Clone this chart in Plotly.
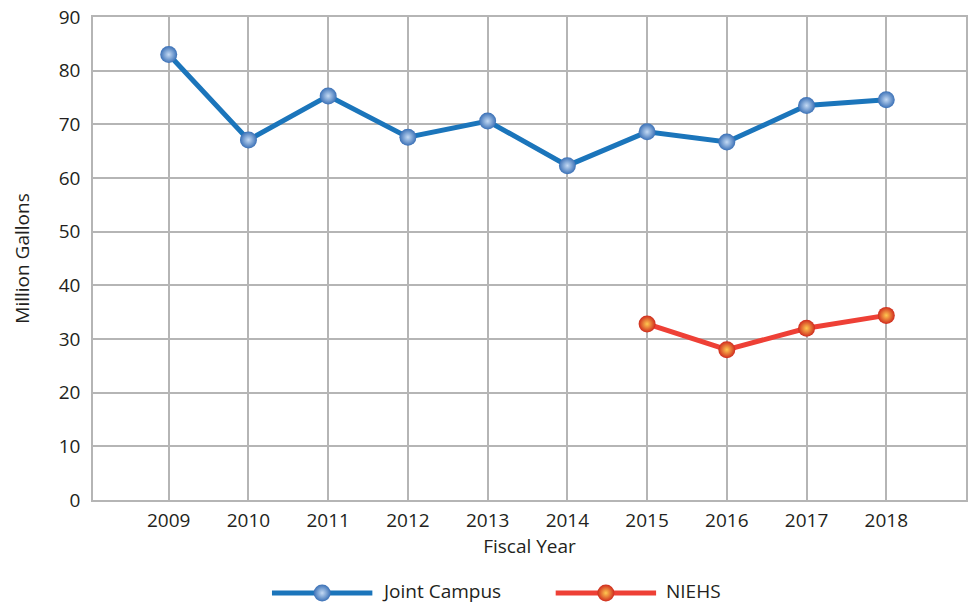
import plotly.graph_objects as go

years = [2009, 2010, 2011, 2012, 2013, 2014, 2015, 2016, 2017, 2018]
joint_campus = [83.0, 67.1, 75.3, 67.6, 70.6, 62.3, 68.6, 66.7, 73.5, 74.6]
niehs_years = [2015, 2016, 2017, 2018]
niehs = [32.8, 28.0, 32.0, 34.4]
y_ticks = [0, 10, 20, 30, 40, 50, 60, 70, 80, 90]
series_names = ["Joint Campus", "NIEHS"]

BLUE = "#1b75bb"
BLUE_EDGE = "#3a70b6"
BLUE_CORE = "#c4daf4"
RED = "#ee4036"
RED_EDGE = "#cf2a1e"
RED_CORE = "#ffc850"
GRID = "#b5b5b5"
FONT = "Open Sans"
TEXT = "#231f20"


def sphere(edge, core, size=17):
    # radial gradient: gradient.color is the centre, marker.color the rim
    return dict(size=size, color=edge,
                gradient=dict(type="radial", color=core),
                line=dict(width=0))


fig = go.Figure()

fig.add_trace(go.Scatter(
    x=years, y=joint_campus, mode="lines+markers", name=series_names[0],
    line=dict(color=BLUE, width=5), marker=sphere(BLUE_EDGE, BLUE_CORE),
    showlegend=False,
))
fig.add_trace(go.Scatter(
    x=niehs_years, y=niehs, mode="lines+markers", name=series_names[1],
    line=dict(color=RED, width=5), marker=sphere(RED_EDGE, RED_CORE),
    showlegend=False,
))

# Legend row at the bottom, on its own small subplot (x2/y2)
legend_items = [
    (series_names[0], BLUE, BLUE_EDGE, BLUE_CORE, 0.205),
    (series_names[1], RED, RED_EDGE, RED_CORE, 0.530),
]
for label, col, edge, core, x0 in legend_items:
    fig.add_trace(go.Scatter(
        x=[x0, x0 + 0.115], y=[0.5, 0.5], xaxis="x2", yaxis="y2",
        mode="lines", showlegend=False, hoverinfo="skip",
        line=dict(color=col, width=5),
    ))
    fig.add_trace(go.Scatter(
        x=[x0 + 0.0575], y=[0.5], xaxis="x2", yaxis="y2",
        mode="markers", showlegend=False, hoverinfo="skip",
        marker=sphere(edge, core),
    ))
    fig.add_annotation(x=x0 + 0.124, y=0.5, xref="x2", yref="y2",
                       text=label, showarrow=False, xanchor="left",
                       yanchor="middle", yshift=2,
                       font=dict(family=FONT, size=19, color=TEXT))

fig.update_layout(
    width=972, height=604,
    margin=dict(l=93, r=6, t=17, b=0, autoexpand=False),
    paper_bgcolor="white", plot_bgcolor="white",
    font=dict(family=FONT, size=19, color=TEXT),
    xaxis=dict(
        range=[2008.05, 2019.0], tickvals=years,
        ticktext=[str(y) for y in years],
        showgrid=True, gridcolor=GRID, gridwidth=1.5,
        showline=True, linecolor=GRID, linewidth=1.5, mirror=True,
        zeroline=False, ticks="", ticklabelstandoff=2,
        title=dict(text="Fiscal Year", font=dict(family=FONT, size=19),
                   standoff=8),
        tickfont=dict(family=FONT, size=19),
        anchor="y", automargin=False,
    ),
    yaxis=dict(
        domain=[0.1772, 1.0],
        range=[0, 90], tickvals=y_ticks,
        showgrid=True, gridcolor=GRID, gridwidth=1.5,
        showline=True, linecolor=GRID, linewidth=1.5, mirror=True,
        zeroline=False, ticks="", ticklabelstandoff=7,
        title=dict(text="Million Gallons", font=dict(family=FONT, size=19),
                   standoff=24),
        tickfont=dict(family=FONT, size=19),
        anchor="x", automargin=False,
    ),
    xaxis2=dict(domain=[0, 1], range=[0, 1], visible=False, anchor="y2",
                fixedrange=True, automargin=False),
    yaxis2=dict(domain=[0, 0.0375], range=[0, 1], visible=False,
                anchor="x2", fixedrange=True, automargin=False),
)

fig.write_html("out.html")
